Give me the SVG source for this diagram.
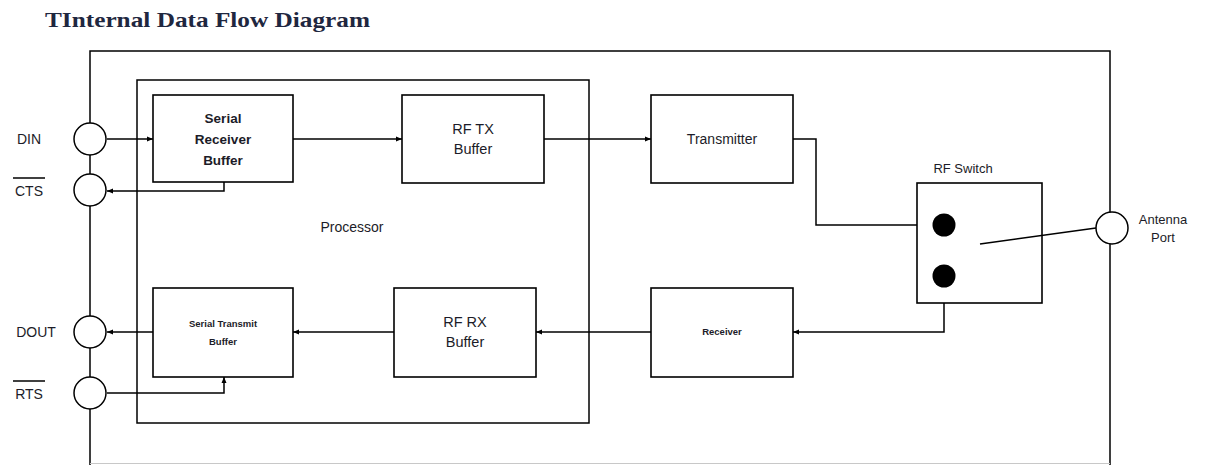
<svg xmlns="http://www.w3.org/2000/svg" width="1227" height="465" viewBox="0 0 1227 465">
<defs>
<marker id="ah" markerWidth="8" markerHeight="8" refX="7" refY="4" orient="auto" markerUnits="userSpaceOnUse">
<path d="M1,1.5 L7,4 L1,6.5 Z" fill="#000"/>
</marker>
<style>
.box{fill:#fff;stroke:#000;stroke-width:1.6}
.frame{fill:none;stroke:#000;stroke-width:1.5}
.port{fill:#fff;stroke:#000;stroke-width:1.5}
.ln{fill:none;stroke:#000;stroke-width:1.5}
.ar{fill:none;stroke:#000;stroke-width:1.5;marker-end:url(#ah)}
.t{font-family:"Liberation Sans",Arial,sans-serif;fill:#1c1c28;text-anchor:middle;dominant-baseline:central}
.tb{font-weight:bold}
.title{font-family:"Liberation Serif","Times New Roman",serif;font-weight:bold;font-size:21px;fill:#1f2740}
</style>
</defs>
<rect width="1227" height="465" fill="#fff"/>
<text class="title" x="45" y="27" textLength="325" lengthAdjust="spacingAndGlyphs">TInternal Data Flow Diagram</text>

<g id="module">
<path class="frame" d="M90,465 V51 H1110 V465"/>
<line x1="90" y1="463.5" x2="1110" y2="463.5" stroke="#c8c8c8" stroke-width="1.2"/>
</g>
<g id="processor">
<rect class="frame" x="137" y="80" width="452" height="343"/>
<text class="t" x="352" y="227" font-size="14">Processor</text>
</g>

<g id="connectors">
<path class="ar" d="M107,139 H153"/>
<path class="ar" d="M224,182 V191 H107"/>
<path class="ar" d="M293,139 H402"/>
<path class="ar" d="M544,139 H651"/>
<path class="ar" d="M793,139 H816 V225 H932"/>
<path class="ar" d="M944,276 V332 H793"/>
<path class="ar" d="M651,332 H536"/>
<path class="ar" d="M394,332 H293"/>
<path class="ar" d="M153,332 H107"/>
<path class="ar" d="M107,393 H224 V377"/>
</g>

<g id="port-din">
<circle class="port" cx="90" cy="139" r="16"/>
<text class="t" x="29" y="139" font-size="14">DIN</text>
</g>
<g id="port-cts">
<circle class="port" cx="90" cy="190" r="16"/>
<text class="t" x="29" y="191" font-size="14">CTS</text>
<line class="ln" x1="13" y1="178" x2="45" y2="178" stroke-width="1.3"/>
</g>
<g id="port-dout">
<circle class="port" cx="90" cy="332" r="16"/>
<text class="t" x="36" y="332" font-size="14">DOUT</text>
</g>
<g id="port-rts">
<circle class="port" cx="90" cy="393" r="16"/>
<text class="t" x="29" y="394" font-size="14">RTS</text>
<line class="ln" x1="13" y1="381" x2="45" y2="381" stroke-width="1.3"/>
</g>

<g id="serial-receiver-buffer">
<rect class="box" x="153" y="95" width="140" height="87"/>
<text class="t tb" x="223" y="118" font-size="13.5">Serial</text>
<text class="t tb" x="223" y="139" font-size="13.5">Receiver</text>
<text class="t tb" x="223" y="160" font-size="13.5">Buffer</text>
</g>
<g id="rf-tx-buffer">
<rect class="box" x="402" y="95" width="142" height="88"/>
<text class="t" x="473" y="129" font-size="14.5">RF TX</text>
<text class="t" x="473" y="149" font-size="14.5">Buffer</text>
</g>
<g id="transmitter">
<rect class="box" x="651" y="95" width="142" height="88"/>
<text class="t" x="722" y="139" font-size="14">Transmitter</text>
</g>
<g id="serial-transmit-buffer">
<rect class="box" x="153" y="288" width="140" height="89"/>
<text class="t tb" x="223" y="323" font-size="9.5">Serial Transmit</text>
<text class="t tb" x="223" y="341" font-size="9.5">Buffer</text>
</g>
<g id="rf-rx-buffer">
<rect class="box" x="394" y="288" width="142" height="89"/>
<text class="t" x="465" y="322" font-size="14.5">RF RX</text>
<text class="t" x="465" y="342" font-size="14.5">Buffer</text>
</g>
<g id="receiver">
<rect class="box" x="651" y="288" width="142" height="89"/>
<text class="t tb" x="722" y="331" font-size="9.5">Receiver</text>
</g>
<g id="rf-switch">
<rect class="box" x="917" y="183" width="125" height="120"/>
<text class="t" x="963" y="168" font-size="13">RF Switch</text>
<circle cx="944" cy="225" r="11.5" fill="#000"/>
<circle cx="944" cy="276" r="11.5" fill="#000"/>
<line class="ln" x1="980" y1="244" x2="1096" y2="228"/>
</g>
<g id="antenna-port">
<circle class="port" cx="1112" cy="228" r="16"/>
<text class="t" x="1163" y="219" font-size="13">Antenna</text>
<text class="t" x="1163" y="237" font-size="13">Port</text>
</g>
</svg>
